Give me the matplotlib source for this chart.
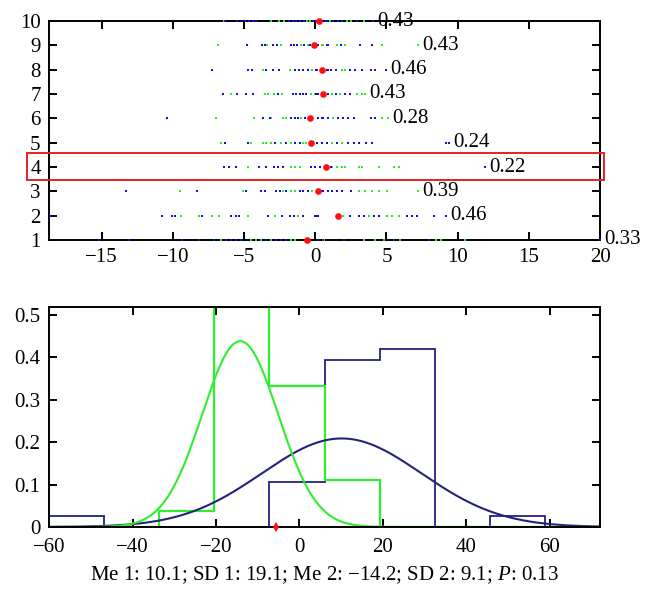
import numpy as np
import matplotlib
matplotlib.use("Agg")
import matplotlib.pyplot as plt
from matplotlib.patches import Rectangle
import matplotlib.transforms as mtransforms

plt.rcParams['font.family'] = ['Liberation Serif', 'DejaVu Serif']
plt.rcParams['mathtext.fontset'] = 'custom'
plt.rcParams['mathtext.rm'] = 'Liberation Serif'
plt.rcParams['mathtext.it'] = 'Liberation Serif:italic'

# ---------------- top panel data (rows 1..10) ----------------
rows = [1, 2, 3, 4, 5, 6, 7, 8, 9, 10]
row_labels = ["0.33", "0.46", "0.39", "0.22", "0.24", "0.28", "0.43", "0.46", "0.43", "0.43"]
row_means = [-0.55, 1.63, 0.18, 0.78, -0.3, -0.38, 0.56, 0.45, -0.08, 0.28]

blue_1 = [-15.2, -13.07, -9.39, -9.34, -8.16, -7.1, -6.28, -5.92, -5.57, -5.22, -3.45, -2.74,
          -2.38, -2.03, 0.56, 0.21, 2.05, 5.52, 7.99, 20.0]
green_1 = [-6.63, -4.51, -4.15, -3.8, -3.09, -1.68, -1.44, 0.21, 0.63, 3.39, 4.22, 4.81, 5.92,
           8.51, 8.82, 10.54]
blue_2 = [-18.6, -10.76, -10.06, -9.82, -7.93, -5.92, -5.57, -5.33, -3.33, -2.31, -1.8, -1.49,
          -0.85, -0.03, 0.09, 0.21, 2.45, 3.04, 3.39, 4.1, 4.46, 6.46, 6.82, 7.17, 8.35, 9.17]
green_2 = [-9.46, -8.16, -7.22, -6.75, -4.7, -2.86, -1.21, 1.98, 3.75, 5.05, 5.4, 5.87]
blue_3 = [-13.3, -8.28, -4.86, -3.8, -3.52, -2.74, -2.5, -2.03, -1.09, -0.85, -0.5, 0.49, 0.87,
          0.56, 1.15, 1.51, 1.86, 2.52]
green_3 = [-9.51, -5.1, -2.27, -1.68, -1.44, -0.21, 3.04, 3.51, 3.98, 4.46, 5.05, 7.24]
blue_4 = [-6.4, -6.04, -5.57, -3.92, -3.45, -2.9, -2.62, -2.27, -0.31, -0.03, 0.33, 1.11, 11.89]
green_4 = [-4.74, -1.72, -1.39, -1.09, 1.15, 1.51, 1.86, 2.1, 3.04, 3.28, 4.46, 5.52, 5.87]
blue_5 = [-6.35, -4.74, -2.86, -2.08, -1.39, -1.09, 0.09, -0.14, 0.45, 0.8, 1.51, 2.33, 2.69,
          3.04, 3.58, 3.98, 9.17, 9.41]
green_5 = [-6.63, -4.51, -3.68, -3.45, -3.09, -2.38, -1.72, -0.85, -0.62, 1.15, 1.86]
blue_6 = [-10.41, -3.68, -3.21, -1.68, -1.44, -1.21, -0.69, 0.21, 0.49, 0.92, 0.56, 1.62, 1.98,
          2.33, 2.69, 3.94, 4.22]
green_6 = [-6.98, -4.27, -3.09, -2.27, -2.03, -0.97, 1.27, 4.69, 5.12]
blue_7 = [-6.51, -5.5, -4.86, -4.39, -2.62, -1.56, -1.32, -1.09, -0.85, -0.62, 0.21, 0.02, 0.87,
          1.44, 2.1, 2.45]
green_7 = [-5.92, -3.56, -3.33, -2.9, -2.31, -0.31, -0.03, 1.15, 1.74, 2.92, 3.28, 3.51]
blue_8 = [-7.22, -4.74, -4.46, -3.45, -2.97, -2.57, -1.39, -1.13, -0.85, -0.54, 0.09, 0.92, 0.02,
          0.8, 1.11, 1.44, 2.45, 2.8, 3.28, 3.94, 4.22, 4.97]
green_8 = [-3.68, -1.8, -0.26, 1.86, 2.1]
blue_9 = [-4.81, -3.73, -3.56, -2.97, -2.67, -1.72, -1.49, -1.25, -0.78, -0.38, 0.92, 0.21, 0.8,
          1.81, 3.16, 3.98]
green_9 = [-6.82, -3.4, -2.38, -1.02, -0.54, 0.21, 0.56, 0.45, 1.51, 2.1, 4.69, 7.19]
blue_10 = [-6.35, -5.52, -4.93, -4.63, -4.39, -4.15, -1.87, -1.56, -1.32, -1.04, -0.78, -0.14,
           0.68, 0.02, 0.45, 0.8, 1.27, 1.58, 1.91, 2.92, 4.03]
green_10 = [-6.44, -3.14, -2.57, -2.2, -0.59, -0.38, 1.04, 2.21, 2.52, 3.4]

blue_rows = [blue_1, blue_2, blue_3, blue_4, blue_5, blue_6, blue_7, blue_8, blue_9, blue_10]
green_rows = [green_1, green_2, green_3, green_4, green_5, green_6, green_7, green_8, green_9, green_10]
highlight_row = 4

# ---------------- bottom panel data ----------------
bin_edges = [-60, -46.8, -33.6, -20.4, -7.2, 6.0, 19.2, 32.4, 45.6, 58.8]
hist_1 = [0.026, 0, 0, 0, 0.105, 0.395, 0.421, 0, 0.026]
hist_2 = [0, 0, 0.037, 0.519, 0.333, 0.111, 0, 0, 0]
mean_1, sd_1 = 10.1, 19.1
mean_2, sd_2 = -14.2, 9.1
curve_scale = 10
threshold = -5.6
caption = "Me 1: 10.1; SD 1: 19.1; Me 2: \u221214.2; SD 2: 9.1; $P$: 0.13"

navy = '#23237a'
lime = '#2fee2f'

fig = plt.figure(figsize=(6.51, 6.0), dpi=100)

# ---------------- top axes ----------------
ax1 = fig.add_axes([0.0753, 0.60, 0.8464, 0.365])
for r, b, g, m, lab in zip(rows, blue_rows, green_rows, row_means, row_labels):
    ax1.plot(g, [r] * len(g), ls='none', marker='s', ms=1.9, mew=0, color='#22ee22',
             clip_on=False, zorder=3)
    ax1.plot(b, [r] * len(b), ls='none', marker='s', ms=1.9, mew=0, color='#1010d8',
             clip_on=False, zorder=3)
    ax1.plot([m], [r], ls='none', marker='o', ms=4.8, mew=0, color='#ff1010',
             clip_on=False, zorder=4)
    xmax = max(max(b), max(g))
    ax1.text(xmax + 0.3, r, lab, ha='left', va='center', fontsize=15, clip_on=False, zorder=5)

ax1.set_xlim(-18.7, 20)
ax1.set_ylim(1, 10)
ax1.set_xticks([-15, -10, -5, 0, 5, 10, 15, 20])
ax1.set_yticks(rows)

trans = mtransforms.blended_transform_factory(ax1.transAxes, ax1.transData)
rect = Rectangle((-0.04, highlight_row - 0.52), 1.047, 1.1, transform=trans, fill=False,
                 edgecolor='#e82020', lw=1.4, clip_on=False, zorder=6)
ax1.add_patch(rect)

# ---------------- bottom axes ----------------
ax2 = fig.add_axes([0.0753, 0.1217, 0.8464, 0.3666])
ax2.stairs(hist_1, bin_edges, color=navy, lw=1.3, zorder=2)
ax2.stairs(hist_2, bin_edges, color=lime, lw=1.6, zorder=2)
xs = np.linspace(-60, 72, 600)
pdf1 = curve_scale * np.exp(-0.5 * ((xs - mean_1) / sd_1) ** 2) / (sd_1 * np.sqrt(2 * np.pi))
pdf2 = curve_scale * np.exp(-0.5 * ((xs - mean_2) / sd_2) ** 2) / (sd_2 * np.sqrt(2 * np.pi))
ax2.plot(xs, pdf1, color=navy, lw=1.5, zorder=2)
ax2.plot(xs, pdf2, color=lime, lw=1.5, zorder=2)
ax2.plot([threshold], [0], ls='none', marker='d', ms=5, mew=0, color='#ff1010',
         clip_on=False, zorder=5)
ax2.set_xlim(-60, 72)
ax2.set_ylim(0, 0.519)
ax2.set_xticks([-60, -40, -20, 0, 20, 40, 60])
ax2.set_yticks([0, 0.1, 0.2, 0.3, 0.4, 0.5])
ax2.set_yticklabels(["0", "0.1", "0.2", "0.3", "0.4", "0.5"])

for ax in (ax1, ax2):
    for s in ax.spines.values():
        s.set_linewidth(1.4)
        s.set_zorder(2.5)
    ax.tick_params(direction='in', top=True, right=True, length=6, width=1.4,
                   labelsize=15, pad=6)
ax2.tick_params(axis='x', pad=8)

fig.text(0.4985, 0.042, caption, ha='center', va='center', fontsize=15)

fig.savefig("out.png", dpi=100)
